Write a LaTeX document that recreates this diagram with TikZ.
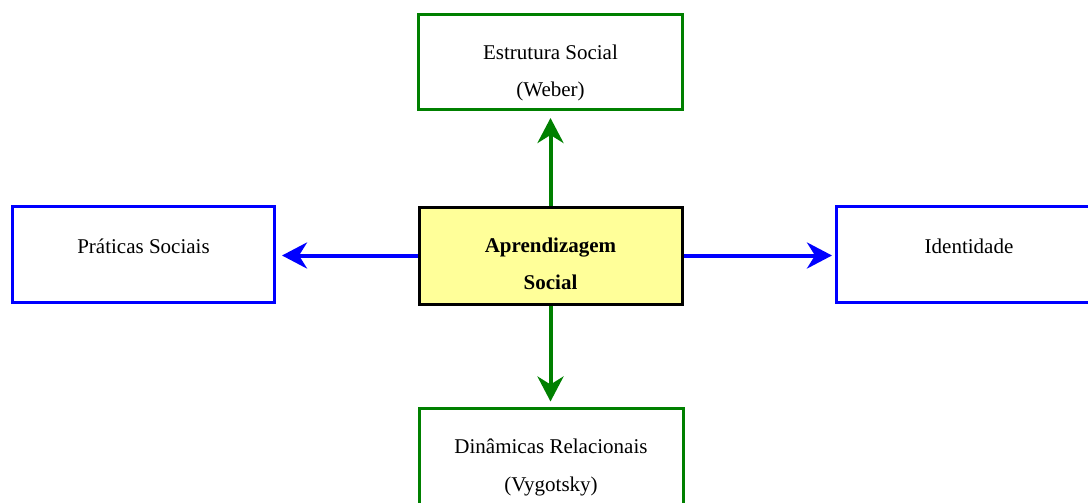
\documentclass[tikz,border=0pt]{standalone}
\usepackage{fontspec}
\setmainfont{Liberation Serif}
\usetikzlibrary{arrows.meta}
\definecolor{boxgreen}{RGB}{0,128,0}
\definecolor{boxblue}{RGB}{0,0,255}
\definecolor{boxyellow}{RGB}{255,255,153}
\begin{document}
\begin{tikzpicture}[x=1pt,y=-1pt,
  frame/.style={draw, line width=3pt, inner sep=0pt, fill=white},
  greenbox/.style={frame, draw=boxgreen, minimum width=264pt, minimum height=95pt},
  bluebox/.style={frame, draw=boxblue, minimum width=262pt, minimum height=96pt},
  corebox/.style={frame, draw=black, fill=boxyellow, minimum width=263pt, minimum height=97pt},
  txt/.style={anchor=base, inner sep=0pt, font=\fontsize{21}{25}\selectfont},
  btxt/.style={txt, font=\fontsize{21}{25}\selectfont\bfseries},
  link/.style={line width=4pt, -{Stealth[length=25pt, width=26pt, inset=8pt]}}
]
\useasboundingbox (0,0) rectangle (1088,503);

% boxes
\node[greenbox] (estr) at (550.5,62) {};
\node[corebox] (apr) at (550.5,255.5) {};
\node[bluebox] (prat) at (143.5,254.5) {};
\node[bluebox, minimum width=265pt] (iden) at (969,254.5) {};
\node[greenbox, minimum height=96pt] (dina) at (551,456) {};

% texts
\node[txt] (estr1) at ([yshift=-47pt]estr.north) {Estrutura Social};
\node[txt] (estr2) at ([yshift=-84pt]estr.north) {(Weber)};
\node[btxt] (apr1) at ([yshift=-47pt]apr.north) {Aprendizagem};
\node[btxt] (apr2) at ([yshift=-84pt]apr.north) {Social};
\node[txt] (prat1) at ([yshift=-48pt]prat.north) {Práticas Sociais};
\node[txt] (iden1) at ([yshift=-48pt]iden.north) {Identidade};
\node[txt] (dina1) at ([yshift=-47pt]dina.north) {Dinâmicas Relacionais};
\node[txt] (dina2) at ([yshift=-85pt]dina.north) {(Vygotsky)};

% connectors, kept straight by projecting onto the target box edge
\draw[link, boxgreen, shorten >=7pt] (apr.north) -- (apr.north |- estr.south);
\draw[link, boxgreen, shorten >=5pt] (apr.south) -- (apr.south |- dina.north);
\draw[link, boxblue, shorten >=6pt] (apr.west) -- (apr.west -| prat.east);
\draw[link, boxblue, shorten >=3pt] (apr.east) -- (apr.east -| iden.west);
\end{tikzpicture}
\end{document}
